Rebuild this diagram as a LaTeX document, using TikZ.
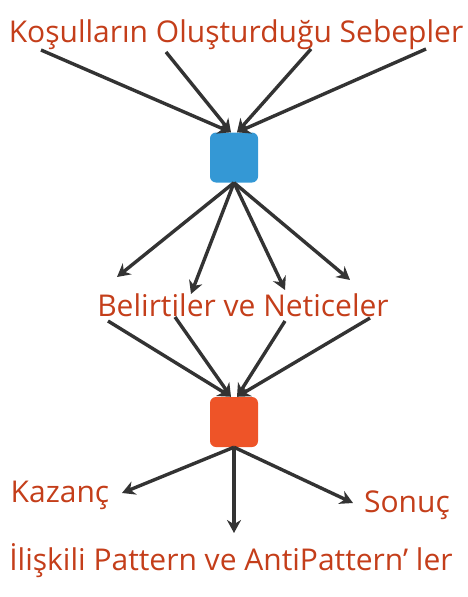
\documentclass[tikz,border=0pt]{standalone}
\usepackage{fontspec}
\setmainfont{Open Sans}
\usetikzlibrary{arrows.meta}
\definecolor{labelred}{RGB}{196,62,26}
\definecolor{boxblue}{RGB}{52,152,213}
\definecolor{boxorange}{RGB}{238,84,40}
\definecolor{arrowgray}{RGB}{51,51,51}
\tikzset{
  lbl/.style={text=labelred, font=\fontsize{30}{36}\selectfont, anchor=base, inner sep=0pt},
  hubbox/.style={rounded corners=6pt, minimum width=48pt, minimum height=50pt, inner sep=0pt},
  link/.style={draw=arrowgray, line width=3.4pt, -{Stealth[length=13pt,width=14pt]}}
}
\begin{document}
\begin{tikzpicture}[x=1pt, y=-1pt]
  \useasboundingbox (0,0) rectangle (467,597);

  \node[lbl] (cause) at (236,42) {Koşulların Oluşturduğu Sebepler};
  \node[hubbox, fill=boxblue] (hub) at (234,157.5) {};
  \node[lbl] (symp) at (243,316) {Belirtiler ve Neticeler};
  \node[hubbox, fill=boxorange] (hubtwo) at (234,422) {};
  \node[lbl] (gain) at (60,502) {Kazanç};
  \node[lbl] (result) at (407,512) {Sonuç};
  \node[lbl] (related) at (231,570) {İlişkili Pattern ve AntiPattern’ ler};

  % causes into the blue box
  \draw[link] (41,50) -- ([xshift=-3pt]hub.north);
  \draw[link] (166,52) -- ([xshift=-3pt]hub.north);
  \draw[link] (311,49) -- ([xshift=3pt]hub.north);
  \draw[link] (426,49) -- ([xshift=3pt]hub.north);

  % blue box out to the symptoms
  \coordinate (s1) at (117,277);
  \coordinate (s2) at (191,294);
  \coordinate (s3) at (285,290);
  \coordinate (s4) at (350,280);
  \foreach \s in {s1,s2,s3,s4}
    \draw[link] (hub.south) -- (\s);

  % symptoms into the orange box
  \draw[link] (108,321) -- ([xshift=-3pt]hubtwo.north);
  \draw[link] (175,317) -- ([xshift=-3pt]hubtwo.north);
  \draw[link] (285,321) -- ([xshift=3pt]hubtwo.north);
  \draw[link] (370,318) -- ([xshift=3pt]hubtwo.north);

  % orange box out to the results
  \coordinate (g) at (122,493);
  \coordinate (r) at (353,503);
  \coordinate (p) at (234,533);
  \draw[link] (hubtwo.south) -- (g);
  \draw[link] (hubtwo.south) -- (p);
  \draw[link] (hubtwo.south) -- (r);
\end{tikzpicture}
\end{document}
